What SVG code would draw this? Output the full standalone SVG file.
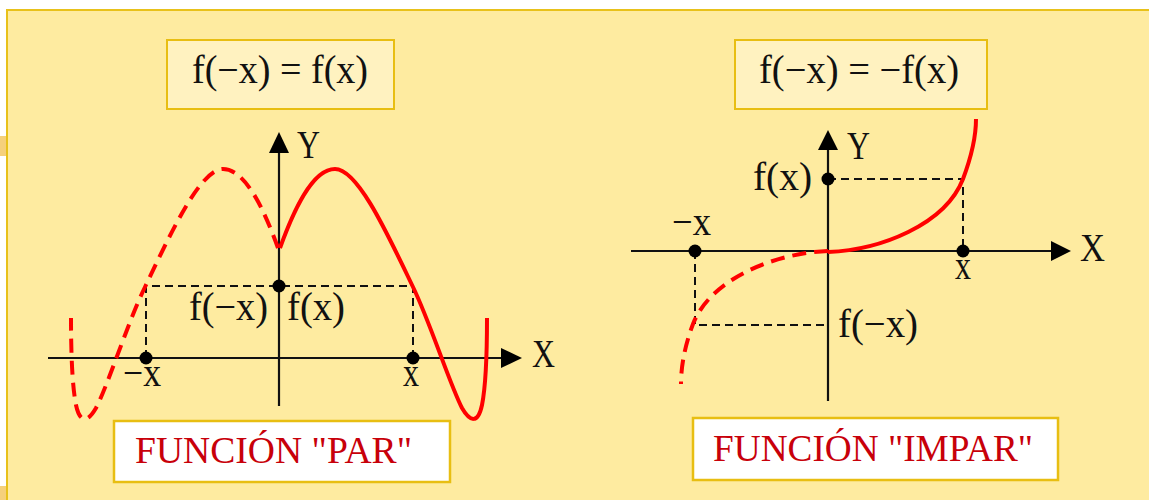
<svg xmlns="http://www.w3.org/2000/svg" width="1149" height="500" viewBox="0 0 1149 500">
<defs>
<style>
.t{font-family:"Liberation Serif","Times New Roman",serif;font-size:39px;fill:#111}
.f{font-family:"Liberation Serif","Times New Roman",serif;font-size:39px;fill:#111}
.lbl{font-family:"Liberation Serif","Times New Roman",serif;font-size:38px;fill:#C8000A}
.box{fill:#FFF2C0;stroke:#E8BE12;stroke-width:2}
.wbox{fill:#FFFFFF;stroke:#E8BE12;stroke-width:2.5}
.axis{stroke:#111;stroke-width:2.2;fill:none}
.guide{stroke:#111;stroke-width:2;stroke-dasharray:8 5;fill:none}
.solid{stroke:#FF0000;stroke-width:4;fill:none;stroke-linecap:butt}
.dash{stroke:#FF0000;stroke-width:4;fill:none;stroke-dasharray:14 8}
.dot{fill:#000}
.head{fill:#000}
</style>
</defs>
<rect x="0" y="0" width="1149" height="500" fill="#FFFFFF"/>
<rect x="0" y="136" width="6" height="20" fill="#F2C45A" opacity="0.8"/>
<rect x="0" y="486" width="6" height="14" fill="#F2C45A" opacity="0.8"/>
<rect id="panel" x="7" y="10" width="1160" height="510" fill="#FEEBA0" stroke="#E8C11A" stroke-width="2"/>

<g id="even-formula">
<rect class="box" x="167" y="40" width="227" height="69"/>
<text class="f" x="192" y="83" textLength="176" lengthAdjust="spacingAndGlyphs">f(−x) = f(x)</text>
</g>
<g id="odd-formula">
<rect class="box" x="735" y="40" width="252" height="69"/>
<text class="f" x="759" y="83" textLength="200" lengthAdjust="spacingAndGlyphs">f(−x) = −f(x)</text>
</g>

<g id="even-graph">
<g id="even-axes">
<line class="axis" x1="48" y1="358" x2="503" y2="358"/>
<polygon class="head" points="501,348 522,358 501,368"/>
<line class="axis" x1="279" y1="406" x2="279" y2="151"/>
<polygon class="head" points="269,153 279,132 289,153"/>
<text class="t" x="297" y="158" textLength="23" lengthAdjust="spacingAndGlyphs">Y</text>
<text class="t" x="532" y="367" textLength="23" lengthAdjust="spacingAndGlyphs">X</text>
</g>
<g id="even-guides">
<polyline class="guide" points="146,358 146,286 413,286 413,358"/>
</g>
<g id="even-curve">
<path class="solid" d="M280,248 C293,212 312,169 335,169 C358,169 388,235 413,287 C430,322 450,385 462,408 C470,422 478,424 482,405 C486,385 487,350 487,318"/>
<path class="dash" d="M278,248 C265,212 246,169 223,169 C200,169 170,235 145,287 C128,322 108,385 96,408 C88,422 80,424 76,405 C72,385 71,350 71,318"/>
</g>
<g id="even-points">
<circle class="dot" cx="146" cy="358" r="6.5"/>
<circle class="dot" cx="413" cy="358" r="6.5"/>
<circle class="dot" cx="279" cy="286" r="6.5"/>
<text class="t" x="123" y="386" textLength="38" lengthAdjust="spacingAndGlyphs">−x</text>
<text class="t" x="403" y="386" textLength="16" lengthAdjust="spacingAndGlyphs">x</text>
<text class="t" x="189" y="320" textLength="79" lengthAdjust="spacingAndGlyphs">f(−x)</text>
<text class="t" x="287" y="320" textLength="58" lengthAdjust="spacingAndGlyphs">f(x)</text>
</g>
</g>

<g id="odd-graph">
<g id="odd-axes">
<line class="axis" x1="631" y1="251" x2="1053" y2="251"/>
<polygon class="head" points="1051,241 1071,251 1051,261"/>
<line class="axis" x1="828" y1="401" x2="828" y2="148"/>
<polygon class="head" points="818,150 828,130 838,150"/>
<text class="t" x="847" y="159" textLength="23" lengthAdjust="spacingAndGlyphs">Y</text>
<text class="t" x="1080" y="261" textLength="25" lengthAdjust="spacingAndGlyphs">X</text>
</g>
<g id="odd-guides">
<polyline class="guide" points="828,179 963,179 963,251"/>
<polyline class="guide" points="695,251 695,325 826,325"/>
</g>
<g id="odd-curve">
<path class="solid" d="M828,252 C880,250 945,225 963,179 C972,155 976,135 976,119"/>
<path class="dash" d="M828,251 C776,253 711,278 693,324 C684,348 681,368 681,384"/>
</g>
<g id="odd-points">
<circle class="dot" cx="828" cy="179" r="6.5"/>
<circle class="dot" cx="963" cy="251" r="6.5"/>
<circle class="dot" cx="695" cy="251" r="6.5"/>
<text class="t" x="753" y="190" textLength="59" lengthAdjust="spacingAndGlyphs">f(x)</text>
<text class="t" x="672" y="235" textLength="39" lengthAdjust="spacingAndGlyphs">−x</text>
<text class="t" x="955" y="279" textLength="16" lengthAdjust="spacingAndGlyphs">x</text>
<text class="t" x="838" y="337" textLength="80" lengthAdjust="spacingAndGlyphs">f(−x)</text>
</g>
</g>

<g id="even-label">
<rect class="wbox" x="114" y="421" width="336" height="61"/>
<text class="lbl" x="135" y="463" textLength="277" lengthAdjust="spacingAndGlyphs">FUNCIÓN "PAR"</text>
</g>
<g id="odd-label">
<rect class="wbox" x="693" y="418" width="365" height="62"/>
<text class="lbl" x="713" y="461" textLength="320" lengthAdjust="spacingAndGlyphs">FUNCIÓN "IMPAR"</text>
</g>
</svg>
